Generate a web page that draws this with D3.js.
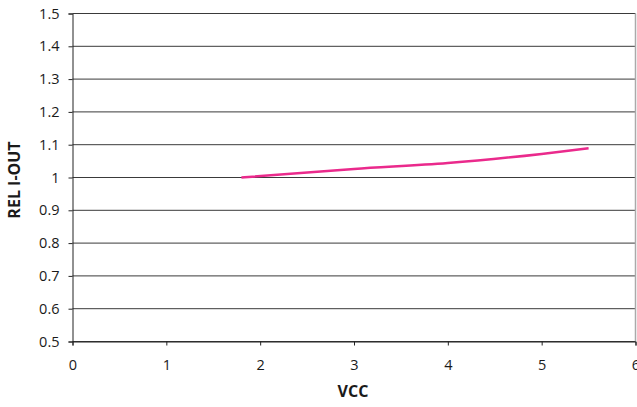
<!DOCTYPE html>
<html><head><meta charset="utf-8">
<script src="https://cdn.jsdelivr.net/npm/d3@7"></script>
<style>body{margin:0;background:#fff}svg{display:block}text{font-family:"Open Sans","Noto Sans",sans-serif;fill:#1a1a1a}</style>
</head><body><svg id="c" width="637" height="407"></svg>
<script>
const vcc = [1.8, 3, 4, 5, 5.5];
const relOut = [1.0, 1.026, 1.044, 1.072, 1.089];
const xTicks = [0, 1, 2, 3, 4, 5, 6];
const yTicks = [0.5, 0.6, 0.7, 0.8, 0.9, 1, 1.1, 1.2, 1.3, 1.4, 1.5];

const svg = d3.select("#c");
const x = d3.scaleLinear().domain([0, 6]).range([72.5, 635.5]);
const y = d3.scaleLinear().domain([0.5, 1.5]).range([341.5, 13.5]);

svg.append("g").selectAll("line").data(yTicks).join("line")
  .attr("x1", x(0)).attr("x2", x(6))
  .attr("y1", d => y(d)).attr("y2", d => y(d))
  .attr("stroke", "#3a3a3a").attr("stroke-width", 1);
svg.append("line").attr("x1", x(6)).attr("x2", x(6)).attr("y1", y(1.5)).attr("y2", y(0.5))
  .attr("stroke", "#aaa").attr("stroke-width", 1.5);

const yAxis = svg.append("g").attr("transform", `translate(${x(0)},0)`)
  .call(d3.axisLeft(y).tickValues(yTicks).tickSize(4).tickPadding(9).tickFormat(d => String(d)));
const xAxis = svg.append("g").attr("transform", `translate(0,${y(0.5)})`)
  .call(d3.axisBottom(x).tickValues(xTicks).tickSize(4).tickPadding(14).tickFormat(d => String(d)));
[yAxis, xAxis].forEach(a => {
  a.attr("font-size", null).attr("font-family", null);
  a.select(".domain").attr("stroke", "#222");
  a.selectAll(".tick line").attr("stroke", "#222");
  a.selectAll("text").style("font-size", "14.5px").attr("fill", "#1a1a1a")
    .style("font-family", '"Open Sans","Noto Sans",sans-serif');
});

svg.append("path").datum(vcc.map((v, i) => [v, relOut[i]]))
  .attr("fill", "none").attr("stroke", "#ea2a8c").attr("stroke-width", 2.5)
  .attr("d", d3.line().x(d => x(d[0])).y(d => y(d[1])).curve(d3.curveMonotoneX));

svg.append("text").attr("x", 353).attr("y", 396.5).attr("text-anchor", "middle")
  .style("font-size", "16px").attr("font-weight", "bold").text("VCC");
svg.append("text").attr("transform", "translate(20,180) rotate(-90)").attr("text-anchor", "middle")
  .style("font-size", "16px").attr("font-weight", "bold").text("REL I-OUT");
</script></body></html>
